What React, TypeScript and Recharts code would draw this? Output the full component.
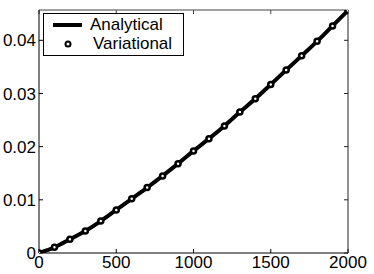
import React from 'react';
import { LineChart, Line, XAxis, YAxis } from 'recharts';

// sample positions along x
const X_VALUES = [0, 100, 200, 300, 400, 500, 600, 700, 800, 900, 1000, 1100, 1200, 1300, 1400, 1500, 1600, 1700, 1800, 1900, 2000];
// values
const ANALYTICAL = [0, 0.00107, 0.00257, 0.00414, 0.006, 0.0081, 0.0102, 0.0123, 0.0145, 0.0168, 0.0192, 0.0215, 0.0239, 0.0265, 0.029, 0.0317, 0.0344, 0.0371, 0.0398, 0.0427, 0.0456];
const VARIATIONAL = [0, 0.00107, 0.00257, 0.00414, 0.006, 0.0081, 0.0102, 0.0123, 0.0145, 0.0168, 0.0192, 0.0215, 0.0239, 0.0265, 0.029, 0.0317, 0.0344, 0.0371, 0.0398, 0.0427, 0.0456];
const X_TICKS = [0, 500, 1000, 1500, 2000];
const Y_TICKS = [0, 0.01, 0.02, 0.03, 0.04];

const data = X_VALUES.map((x, i) => ({ x, analytical: ANALYTICAL[i], variational: VARIATIONAL[i] }));

const FONT = 'Liberation Sans, Arial, Helvetica, sans-serif';
const tickStyle = { fill: '#000', fontSize: 17, fontFamily: FONT };

// legend drawn over the plot, top-left corner
const LegendBox = () => (
  <div
    style={{
      position: 'absolute',
      left: 43,
      top: 13,
      width: 139,
      height: 41,
      border: '1px solid #000',
      background: '#fff',
      fontFamily: FONT,
      fontSize: 17,
      color: '#000',
    }}
  >
    <svg width={40} height={41} style={{ position: 'absolute', left: 0, top: 0 }}>
      <line x1={9} y1={11} x2={38} y2={11} stroke="#000" strokeWidth={4} />
      <circle cx={24} cy={30} r={2.5} fill="#fff" stroke="#000" strokeWidth={2} />
    </svg>
    <span style={{ position: 'absolute', left: 46, top: 1, lineHeight: '20px' }}>Analytical</span>
    <span style={{ position: 'absolute', left: 49, top: 20, lineHeight: '20px' }}>Variational</span>
  </div>
);

const App: React.FC = () => {
  return (
    <div style={{ position: 'absolute', left: 0, top: 0, width: 374, height: 274, background: '#fff' }}>
      <LineChart width={374} height={274} data={data} margin={{ top: 0, right: 0, bottom: 0, left: 0 }}>
        <XAxis
          dataKey="x"
          type="number"
          domain={[0, 2000]}
          ticks={X_TICKS}
          height={21}
          stroke="#000"
          tickSize={-4}
          tickMargin={7}
          tick={tickStyle}
          allowDataOverflow
        />
        <XAxis
          xAxisId="top"
          orientation="top"
          dataKey="x"
          type="number"
          domain={[0, 2000]}
          ticks={X_TICKS}
          height={10}
          stroke="#444"
          tickSize={-4}
          tickFormatter={() => ''}
          allowDataOverflow
        />
        <YAxis
          type="number"
          domain={[0, 0.0457]}
          ticks={Y_TICKS}
          width={39}
          stroke="#000"
          tickSize={-4}
          tickMargin={7}
          tick={tickStyle}
          allowDataOverflow
        />
        <YAxis
          yAxisId="right"
          orientation="right"
          type="number"
          domain={[0, 0.0457]}
          ticks={Y_TICKS}
          width={26}
          stroke="#222"
          tickSize={-4}
          tickFormatter={() => ''}
          allowDataOverflow
        />
        <Line
          dataKey="analytical"
          type="monotone"
          stroke="#000"
          strokeWidth={4}
          dot={false}
          isAnimationActive={false}
        />
        <Line
          dataKey="variational"
          stroke="none"
          dot={{ r: 2.5, stroke: '#000', strokeWidth: 2.5, fill: '#fff' }}
          activeDot={false}
          isAnimationActive={false}
        />
      </LineChart>
      <LegendBox />
    </div>
  );
};

export default App;
